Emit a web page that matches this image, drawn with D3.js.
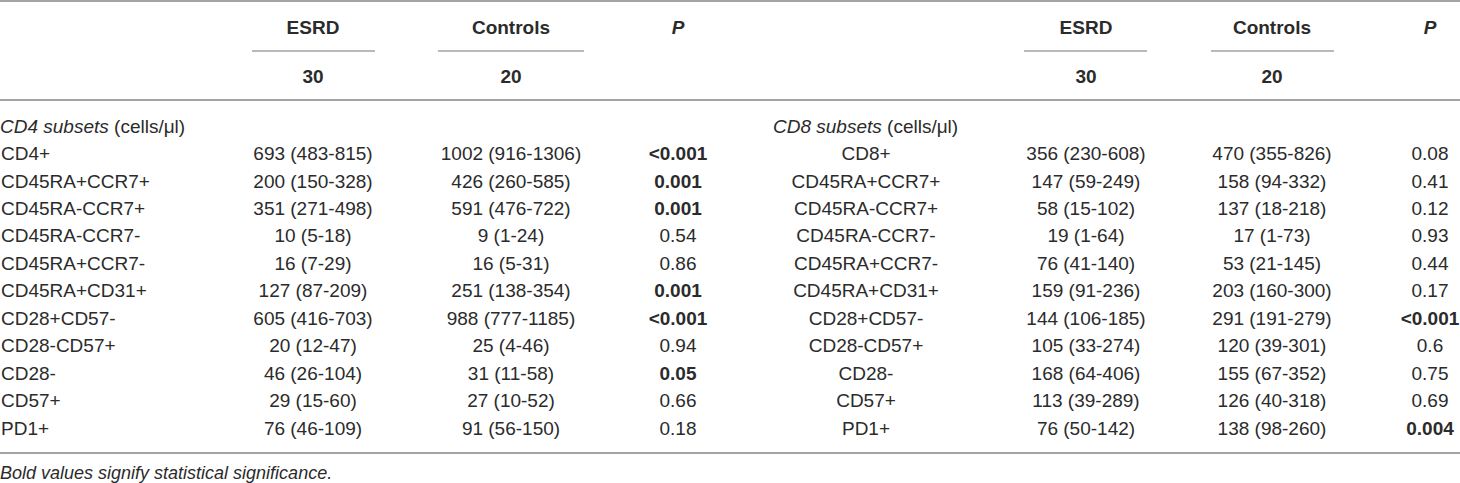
<!DOCTYPE html>
<html>
<head>
<meta charset="utf-8">
<script src="https://cdn.jsdelivr.net/npm/d3@7"></script>
<style>
  body { margin: 0; background: #fff; }
  svg text { font-family: "Liberation Sans", Arial, sans-serif; fill: #2b2b2b; }
</style>
</head>
<body>
<svg id="table"></svg>
<script>
// column headers + group sizes
let groups = ["ESRD", "Controls"]
let groupN = ["30", "20"]

let subsetLabels4 = ["CD4+", "CD45RA+CCR7+", "CD45RA-CCR7+", "CD45RA-CCR7-", "CD45RA+CCR7-", "CD45RA+CD31+",
    "CD28+CD57-", "CD28-CD57+", "CD28-", "CD57+", "PD1+"]
let subsetLabels8 = ["CD8+", "CD45RA+CCR7+", "CD45RA-CCR7+", "CD45RA-CCR7-", "CD45RA+CCR7-", "CD45RA+CD31+",
    "CD28+CD57-", "CD28-CD57+", "CD28-", "CD57+", "PD1+"]

// median (IQR), cells/ul
let cd4Esrd = ["693 (483-815)", "200 (150-328)", "351 (271-498)", "10 (5-18)", "16 (7-29)", "127 (87-209)",
    "605 (416-703)", "20 (12-47)", "46 (26-104)", "29 (15-60)", "76 (46-109)"]
let cd4Controls = ["1002 (916-1306)", "426 (260-585)", "591 (476-722)", "9 (1-24)", "16 (5-31)", "251 (138-354)",
    "988 (777-1185)", "25 (4-46)", "31 (11-58)", "27 (10-52)", "91 (56-150)"]
let cd4P = ["<0.001", "0.001", "0.001", "0.54", "0.86", "0.001", "<0.001", "0.94", "0.05", "0.66", "0.18"]
let cd4Bold = [true, true, true, false, false, true, true, false, true, false, false]

let cd8Esrd = ["356 (230-608)", "147 (59-249)", "58 (15-102)", "19 (1-64)", "76 (41-140)", "159 (91-236)",
    "144 (106-185)", "105 (33-274)", "168 (64-406)", "113 (39-289)", "76 (50-142)"]
let cd8Controls = ["470 (355-826)", "158 (94-332)", "137 (18-218)", "17 (1-73)", "53 (21-145)", "203 (160-300)",
    "291 (191-279)", "120 (39-301)", "155 (67-352)", "126 (40-318)", "138 (98-260)"]
let cd8P = ["0.08", "0.41", "0.12", "0.93", "0.44", "0.17", "<0.001", "0.6", "0.75", "0.69", "0.004"]
let cd8Bold = [false, false, false, false, false, false, true, false, false, false, true]

let footnote = "Bold values signify statistical significance."

let width = 1460
let height = 483
let fs = 19
let lineColor = "#a3a3a3"

let svg = d3.select("#table")
    .attr("width", width)
    .attr("height", height)

// one panel per T-cell lineage
let panels = [
    { section: "CD4 subsets", labels: subsetLabels4, esrd: cd4Esrd, controls: cd4Controls, p: cd4P, bold: cd4Bold,
      sectionX: 0, labelAnchor: "start",
      x: d3.scaleOrdinal().domain(["label", "ESRD", "Controls", "P"]).range([1, 313, 511, 678]),
      under: [[252, 375], [438, 584]] },
    { section: "CD8 subsets", labels: subsetLabels8, esrd: cd8Esrd, controls: cd8Controls, p: cd8P, bold: cd8Bold,
      sectionX: 773, labelAnchor: "middle",
      x: d3.scaleOrdinal().domain(["label", "ESRD", "Controls", "P"]).range([866, 1086, 1272, 1430]),
      under: [[1024, 1147], [1211, 1334]] }
]

// rows: section title + 11 subsets
let y = d3.scalePoint()
    .domain(d3.range(12))
    .range([126, 428])

// horizontal rules
svg.append("g").selectAll("line")
    .data([1, 100, 453])
    .join("line")
    .attr("x1", 0).attr("x2", width)
    .attr("y1", d => d).attr("y2", d => d)
    .style("stroke", lineColor)
    .style("stroke-width", 2)

panels.forEach(function (p) {
    let g = svg.append("g")

    // header
    g.selectAll(".grp")
        .data(groups)
        .join("text")
        .attr("x", d => p.x(d))
        .attr("y", 27)
        .attr("dy", "0.35em")
        .attr("text-anchor", "middle")
        .style("font-size", fs + "px")
        .style("font-weight", "bold")
        .text(d => d)

    g.append("text")
        .attr("x", p.x("P"))
        .attr("y", 27)
        .attr("dy", "0.35em")
        .attr("text-anchor", "middle")
        .style("font-size", fs + "px")
        .style("font-weight", "bold")
        .style("font-style", "italic")
        .text("P")

    g.selectAll(".under")
        .data(p.under)
        .join("line")
        .attr("x1", d => d[0]).attr("x2", d => d[1])
        .attr("y1", 51).attr("y2", 51)
        .style("stroke", lineColor)
        .style("stroke-width", 1.5)

    g.selectAll(".n")
        .data(groupN)
        .join("text")
        .attr("x", (d, i) => p.x(groups[i]))
        .attr("y", 76)
        .attr("dy", "0.35em")
        .attr("text-anchor", "middle")
        .style("font-size", fs + "px")
        .style("font-weight", "bold")
        .text(d => d)

    // section title
    let sec = g.append("text")
        .attr("x", p.sectionX)
        .attr("y", y(0))
        .attr("dy", "0.35em")
        .style("font-size", fs + "px")
    sec.append("tspan").style("font-style", "italic").text(p.section)
    sec.append("tspan").text(" (cells/\u03bcl)")

    // body rows
    let rows = g.selectAll(".row")
        .data(p.labels.map((d, i) => i))
        .join("g")
        .attr("transform", i => "translate(0," + y(i + 1) + ")")

    rows.append("text")
        .attr("x", p.x("label"))
        .attr("dy", "0.35em")
        .attr("text-anchor", p.labelAnchor)
        .style("font-size", fs + "px")
        .text(i => p.labels[i])

    rows.append("text")
        .attr("x", p.x("ESRD"))
        .attr("dy", "0.35em")
        .attr("text-anchor", "middle")
        .style("font-size", fs + "px")
        .text(i => p.esrd[i])

    rows.append("text")
        .attr("x", p.x("Controls"))
        .attr("dy", "0.35em")
        .attr("text-anchor", "middle")
        .style("font-size", fs + "px")
        .text(i => p.controls[i])

    rows.append("text")
        .attr("x", p.x("P"))
        .attr("dy", "0.35em")
        .attr("text-anchor", "middle")
        .style("font-size", fs + "px")
        .style("font-weight", i => p.bold[i] ? "bold" : "normal")
        .text(i => p.p[i])
})

svg.append("text")
    .attr("x", 0)
    .attr("y", 473)
    .attr("dy", "0.35em")
    .style("font-size", "18px")
    .style("font-style", "italic")
    .text(footnote)
</script>
</body>
</html>
